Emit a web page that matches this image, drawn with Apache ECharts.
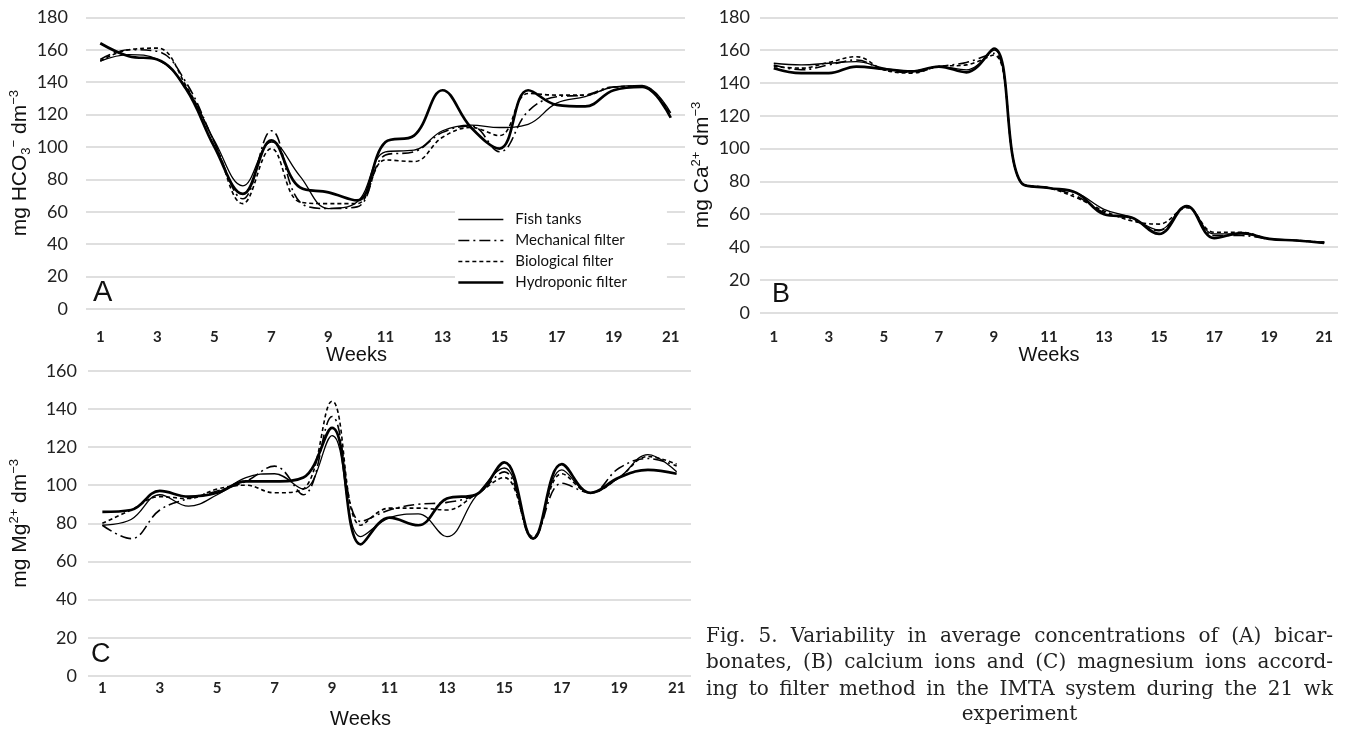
<!DOCTYPE html>
<html><head><meta charset="utf-8">
<script src="https://cdn.jsdelivr.net/npm/echarts@6/dist/echarts.min.js"></script>
<style>html,body{margin:0;padding:0;background:#fff}#c{width:1346px;height:730px}</style>
</head><body><div id="c"></div>
<script>
// ---- data ----
const weeks = ['1','2','3','4','5','6','7','8','9','10','11','12','13','14','15','16','17','18','19','20','21'];
const seriesNames = ['Fish tanks','Mechanical filter','Biological filter','Hydroponic filter'];

// (A) bicarbonates, mg HCO3- dm-3
const hco3Fish  = [153,157,154,137,104,76,103,82,62,66,97,98,110,113.5,112,114,127,131,137,138,121];
const hco3Mech  = [154,160,159,140,103,68,110,66,62,63,95,97,109,113,97,122,131,132,137,137,119];
const hco3Bio   = [153,160,161,138,103,65,99,66,65,65,92,91,106,112,107,133,132,132,137,137.5,120];
const hco3Hydro = [164,156,154,136,100,71,104,75,72,67,103,107,135,112,99,135,126,125,135,137,118];

// (B) calcium, mg Ca2+ dm-3
const caFish  = [152,151,152,153,149,147,150,148,160,79,76,73,63,58,50.5,65,48,48,45,44,43];
const caMech  = [151,148,151,154,148,146.5,150,152.5,158,79,76,71,61,57,50,65,47,47,45,44,42.5];
const caBio   = [150,149,152.5,156,148,146,150,151,157,79,76,70,62,56,54,64,49,49,45,44,43];
const caHydro = [149,146,146,150,148.5,147,150,146.5,161,79,76,73,60,58,48,65,45.5,48.5,45,44,42.5];

// (C) magnesium, mg Mg2+ dm-3
const mgFish  = [79,82,95,89,95,104,106,98,126,73,83,85,73,94,109,72,108,96,104,116,107];
const mgMech  = [79,72,87,93,97,102,110,95,136,81,87,90,91,95,107,72,101,96,109,114,110];
const mgBio   = [80,87,94,93,98,100,96,98,144,79,88,88,87,95,104,73,106,96,104,115,111];
const mgHydro = [86,87,97,94,96,102,102,104,130,69,83,79,93,95,112,72,111,96,104,108,106];

const yTicksAB = [0, 180, 20]; // min, max, interval
const yTicksC  = [0, 160, 20];

const captionLines = [
  'Fig. 5. Variability in average concentrations of (A) bicar-',
  'bonates, (B) calcium ions and (C) magnesium ions accord-',
  'ing to filter method in the IMTA system during the 21 wk',
  'experiment'
];

// ---- styles ----
const lineStyles = {
  'Fish tanks':        {width: 1.3, type: 'solid'},
  'Mechanical filter': {width: 1.6, type: [11, 4, 2, 4]},
  'Biological filter': {width: 1.6, type: [4, 3]},
  'Hydroponic filter': {width: 2.7, type: 'solid'}
};
const tickFont = 'Lato';
const titleFont = 'Liberation Sans';

function mkSeries(name, data, idx) {
  return {
    type: 'line', name: name, data: data,
    xAxisIndex: idx, yAxisIndex: idx,
    smooth: 0.4, symbol: 'none', showSymbol: false,
    lineStyle: Object.assign({color: '#000'}, lineStyles[name]),
    itemStyle: {color: '#000'},
    z: name === 'Hydroponic filter' ? 4 : 3,
    animation: false
  };
}

function mkX(idx, margin, gap, shift) {
  return {
    type: 'category', gridIndex: idx, data: weeks, boundaryGap: true,
    axisLine: {show: false}, axisTick: {show: false},
    axisLabel: {interval: 1, fontFamily: tickFont, fontWeight: 'bold', fontSize: 15, color: '#222', margin: margin},
    name: 'Weeks', nameLocation: 'middle', nameGap: gap,
    nameTextStyle: {fontFamily: titleFont, fontSize: 20, color: '#111', padding: shift ? [0, shift, 0, 0] : 0}
  };
}

function mkY(idx, ticks, name, margin, gap) {
  return {
    type: 'value', gridIndex: idx, min: ticks[0], max: ticks[1], interval: ticks[2],
    axisLine: {show: false}, axisTick: {show: false},
    axisLabel: {fontFamily: tickFont, fontSize: 18, color: '#222', margin: margin},
    splitLine: {lineStyle: {color: '#d4d4d4', width: 1.5}},
    name: name, nameLocation: 'middle', nameRotate: 90, nameGap: gap,
    nameTextStyle: {
      fontFamily: titleFont, fontSize: 21, color: '#111', lineHeight: 25,
      rich: {
        sub: {fontFamily: titleFont, fontSize: 13, color: '#111', verticalAlign: 'bottom', lineHeight: 25},
        sup: {fontFamily: titleFont, fontSize: 13, color: '#111', verticalAlign: 'top', lineHeight: 25}
      }
    }
  };
}

const panelData = [
  [hco3Fish, hco3Mech, hco3Bio, hco3Hydro],
  [caFish, caMech, caBio, caHydro],
  [mgFish, mgMech, mgBio, mgHydro]
];
const series = [];
panelData.forEach((arrs, p) => arrs.forEach((d, i) => series.push(mkSeries(seriesNames[i], d, p))));

// caption (justified like the printed figure legend)
const capFont = '20px "DejaVu Serif"';
const capLeft = 706, capRight = 1333;
const capY = [637, 663, 690, 715];
const ctx = document.createElement('canvas').getContext('2d');
ctx.font = capFont;
const graphics = [];
captionLines.forEach((line, li) => {
  const last = li === captionLines.length - 1;
  if (last) {
    graphics.push({type: 'text', x: (capLeft + capRight) / 2, y: capY[li],
      style: {text: line, fontFamily: 'DejaVu Serif', fontSize: 20, fill: '#222', align: 'center', verticalAlign: 'middle'}});
    return;
  }
  const words = line.split(' ');
  const widths = words.map(w => ctx.measureText(w).width);
  const total = widths.reduce((a, b) => a + b, 0);
  const gap = (capRight - capLeft - total) / (words.length - 1);
  let x = capLeft;
  words.forEach((w, wi) => {
    graphics.push({type: 'text', x: x, y: capY[li],
      style: {text: w, fontFamily: 'DejaVu Serif', fontSize: 20, fill: '#222', align: 'left', verticalAlign: 'middle'}});
    x += widths[wi] + gap;
  });
});

const option = {
  animation: false,
  backgroundColor: '#fff',
  title: [
    {text: 'A', left: 93, top: 278, padding: 0, textStyle: {fontFamily: titleFont, fontSize: 29, fontWeight: 'normal', color: '#111'}},
    {text: 'B', left: 772, top: 281, padding: 0, textStyle: {fontFamily: titleFont, fontSize: 27, fontWeight: 'normal', color: '#111'}},
    {text: 'C', left: 91, top: 641, padding: 0, textStyle: {fontFamily: titleFont, fontSize: 27, fontWeight: 'normal', color: '#111'}}
  ],
  legend: {
    data: seriesNames, orient: 'vertical', left: 455, top: 207,
    itemWidth: 45, itemHeight: 12, itemGap: 6,
    backgroundColor: '#fff', padding: [5, 40, 5, 2],
    itemStyle: {color: 'transparent', borderColor: 'transparent', borderWidth: 0},
    lineStyle: {width: 'inherit', type: 'inherit', color: 'inherit'},
    textStyle: {fontFamily: tickFont, fontSize: 15, color: '#111', padding: [0, 0, 0, 7]},
    selectedMode: false
  },
  grid: [
    {left: 86, right: 661, top: 17.3, bottom: 421},
    {left: 760, right: 8, top: 17.3, bottom: 417.3},
    {left: 88, right: 655, top: 370.7, bottom: 54}
  ],
  xAxis: [mkX(0, 21, 36, 58), mkX(1, 17, 33, 0), mkX(2, 5, 33, 58)],
  yAxis: [
    mkY(0, yTicksAB, 'mg HCO{sub|3}{sup|−} dm{sup|−3}', 18, 53),
    mkY(1, yTicksAB, 'mg Ca{sup|2+} dm{sup|−3}', 10, 43),
    mkY(2, yTicksC, 'mg Mg{sup|2+} dm{sup|−3}', 11, 55)
  ],
  graphic: graphics,
  series: series
};

const chart = echarts.init(document.getElementById('c'));
chart.setOption(option);
</script>
</body></html>
